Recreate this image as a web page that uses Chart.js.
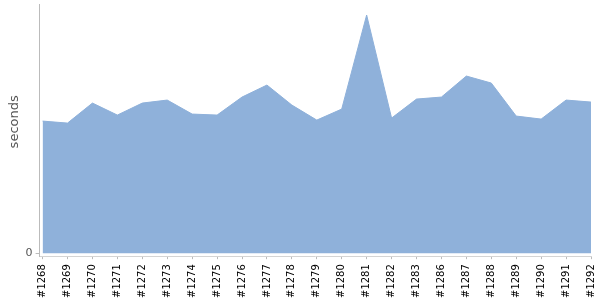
<!DOCTYPE html>
<html>
<head>
<meta charset="utf-8">
<script src="https://cdn.jsdelivr.net/npm/chart.js@4"></script>
<style>
  body { margin: 0; background: #fff; }
  #wrap { width: 600px; height: 300px; }
</style>
</head>
<body>
<div id="wrap"><canvas id="buildTimes"></canvas></div>
<script>
const builds = ["#1268", "#1269", "#1270", "#1271", "#1272", "#1273", "#1274", "#1275",
  "#1276", "#1277", "#1278", "#1279", "#1280", "#1281", "#1282", "#1283", "#1286",
  "#1287", "#1288", "#1289", "#1290", "#1291", "#1292"];
const seconds = [132, 130, 150, 138, 150, 153, 139, 138, 156, 168, 148, 133, 144,
  238, 135, 154, 156, 177, 170, 137, 134, 153, 151];
const yTicks = [0];

const ctx = document.getElementById("buildTimes");
const chart = new Chart(ctx, {
  type: "line",
  data: {
    datasets: [{
      label: "seconds",
      data: seconds.map((v, i) => ({ x: i, y: v })),
      fill: "origin",
      backgroundColor: "rgb(143,177,218)",
      borderColor: "rgb(143,177,218)",
      borderWidth: 1,
      pointRadius: 0,
      tension: 0,
    }],
  },
  options: {
    responsive: true,
    maintainAspectRatio: false,
    animation: { duration: 0 },
    layout: { padding: { top: 4, right: 9, left: 0, bottom: -3 } },
    plugins: {
      legend: { display: false },
      tooltip: { enabled: false },
    },
    scales: {
      x: {
        type: "linear",
        min: -0.12,
        max: builds.length - 1,
        border: { display: true, color: "#d4d4d4" },
        grid: { drawOnChartArea: false, tickLength: 3, color: "#bbb" },
        afterFit: (axis) => {
          axis.paddingLeft = 0;
          axis.paddingRight = 0;
        },
        ticks: {
          includeBounds: false,
          stepSize: 1,
          autoSkip: false,
          maxRotation: 90,
          minRotation: 90,
          padding: 5,
          color: "#000",
          font: { family: "DejaVu Sans", size: 10 },
          callback: (v) => builds[v],
        },
      },
      y: {
        min: -3,
        max: 249,
        border: { display: true, color: "#bbb" },
        grid: { drawOnChartArea: false, tickLength: 4, color: "#bbb" },
        afterBuildTicks: (axis) => {
          axis.ticks = yTicks.map((v) => ({ value: v }));
        },
        afterFit: (axis) => {
          axis.paddingTop = 0;
          axis.paddingBottom = 0;
        },
        ticks: {
          color: "#555",
          font: { family: "DejaVu Sans", size: 11 },
          padding: 3,
        },
        title: {
          display: true,
          text: "    seconds",
          color: "#555",
          font: { family: "DejaVu Sans", size: 13 },
          padding: { top: 7, bottom: 0 },
        },
      },
    },
  },
});
</script>
</body>
</html>
